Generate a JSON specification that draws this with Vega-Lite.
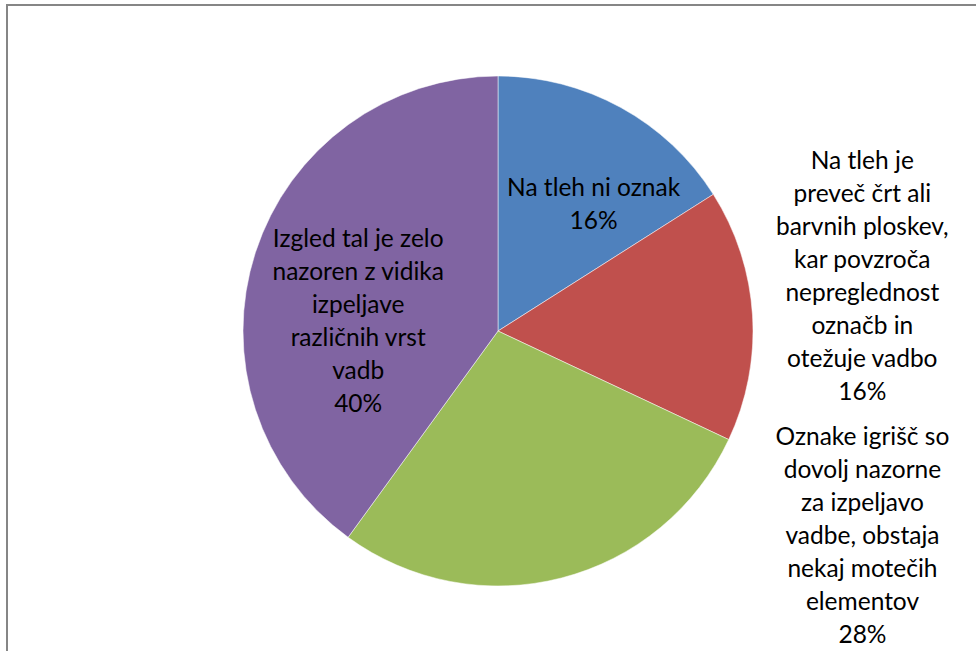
{
  "$schema": "https://vega.github.io/schema/vega-lite/v6.json",
  "width": 982,
  "height": 652,
  "autosize": {"type": "none"},
  "padding": {"left": 7, "top": 5, "right": 0, "bottom": 0},
  "background": "white",
  "view": {"stroke": "#868686", "strokeWidth": 2, "fill": "white"},
  "config": {"view": {"stroke": "#868686", "strokeWidth": 2}},
  "data": {
    "values": [
      {"cat": "Na tleh ni oznak", "value": 16, "order": 1, "label": "Na tleh ni oznak\n16%"},
      {"cat": "Na tleh je preveč črt ali barvnih ploskev", "value": 16, "order": 2, "label": "Na tleh je\npreveč črt ali\nbarvnih ploskev,\nkar povzroča\nnepreglednost\noznačb in\notežuje vadbo\n16%"},
      {"cat": "Oznake igrišč so dovolj nazorne", "value": 28, "order": 3, "label": "Oznake igrišč so\ndovolj nazorne\nza izpeljavo\nvadbe, obstaja\nnekaj motečih\nelementov\n28%"},
      {"cat": "Izgled tal je zelo nazoren", "value": 40, "order": 4, "label": "Izgled tal je zelo\nnazoren z vidika\nizpeljave\nrazličnih vrst\nvadb\n40%"}
    ]
  },
  "transform": [
    {"stack": "value", "groupby": [], "sort": [{"field": "order"}], "as": ["v0", "v1"]},
    {"calculate": "(datum.v0 + datum.v1) / 2", "as": "mid"}
  ],
  "layer": [
    {
      "mark": {"type": "arc", "outerRadius": 255, "stroke": "white", "strokeWidth": 0.5},
      "encoding": {
        "theta": {"field": "v0", "type": "quantitative", "scale": {"domain": [0, 100]}},
        "theta2": {"field": "v1"},
        "color": {
          "field": "cat",
          "type": "nominal",
          "scale": {
            "domain": ["Na tleh ni oznak", "Na tleh je preveč črt ali barvnih ploskev", "Oznake igrišč so dovolj nazorne", "Izgled tal je zelo nazoren"],
            "range": ["#4F81BD", "#C0504D", "#9BBB59", "#8064A2"]
          },
          "legend": null
        }
      }
    },
    {
      "transform": [{"filter": "datum.order == 1"}],
      "mark": {"type": "text", "radius": 159, "dx": 19, "dy": -3, "font": "Lato", "fontSize": 24.5, "lineHeight": 33, "lineBreak": "\n", "align": "center", "baseline": "middle", "color": "black"},
      "encoding": {"theta": {"field": "mid", "type": "quantitative"}, "text": {"field": "label"}}
    },
    {
      "transform": [{"filter": "datum.order == 2"}],
      "mark": {"type": "text", "radius": 364, "dx": 1, "dy": -146, "font": "Lato", "fontSize": 24.5, "lineHeight": 33, "lineBreak": "\n", "align": "center", "baseline": "middle", "color": "black"},
      "encoding": {"theta": {"field": "mid", "type": "quantitative"}, "text": {"field": "label"}}
    },
    {
      "transform": [{"filter": "datum.order == 3"}],
      "mark": {"type": "text", "radius": 219, "dx": 310, "dy": -105, "font": "Lato", "fontSize": 24.5, "lineHeight": 33, "lineBreak": "\n", "align": "center", "baseline": "middle", "color": "black"},
      "encoding": {"theta": {"field": "mid", "type": "quantitative"}, "text": {"field": "label"}}
    },
    {
      "transform": [{"filter": "datum.order == 4"}],
      "mark": {"type": "text", "radius": 147, "dx": 0, "dy": -46, "font": "Lato", "fontSize": 24.5, "lineHeight": 33, "lineBreak": "\n", "align": "center", "baseline": "middle", "color": "black"},
      "encoding": {"theta": {"field": "mid", "type": "quantitative"}, "text": {"field": "label"}}
    }
  ]
}
